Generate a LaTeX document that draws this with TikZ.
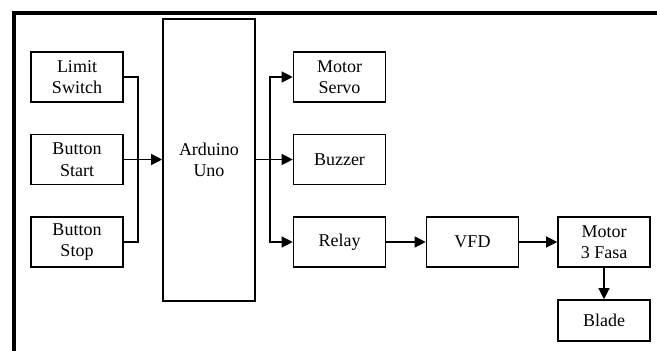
\documentclass[tikz,border=0pt]{standalone}
\usepackage{fontspec}
\setmainfont{Liberation Serif}
\usetikzlibrary{arrows.meta}
\begin{document}
\begin{tikzpicture}[x=1pt,y=-1pt,
  blk/.style={draw,line width=1.6pt,minimum width=92pt,minimum height=50pt,align=center,inner sep=0pt,font=\fontsize{18}{21.5}\selectfont},
  conn/.style={line width=1.2pt},
  arr/.style={conn,-{Triangle[length=11pt,width=11pt]}}]
\useasboundingbox (0,0) rectangle (657,351);
\draw[line width=4pt] (657,13) -- (13.5,13) -- (13.5,351);
\node[blk] (ls) at (77,77) {Limit\\Switch};
\node[blk] (bstart) at (77,159.5) {Button\\Start};
\node[blk] (bstop) at (77,242) {Button\\Stop};
\node[blk,minimum height=282pt] (ard) at (209,160) {Arduino\\Uno};
\node[blk] (ms) at (339.5,77) {Motor\\Servo};
\node[blk] (buz) at (339.5,159.5) {Buzzer};
\node[blk] (rel) at (339.5,242) {Relay};
\node[blk] (vfd) at (472.5,242) {VFD};
\node[blk] (mot) at (604,242) {Motor\\3 Fasa};
\node[blk,minimum height=41pt] (bl) at (604,320.5) {Blade};
\coordinate (jl) at (138,159.5);
\coordinate (jr) at (270,159.5);
\draw[conn] (ls.east) -| (jl) |- (bstop.east);
\draw[arr] (bstart.east) -- (ard.west |- bstart.east);
\draw[conn] (ard.east |- jr) -- (jr);
\draw[arr] (jr) |- (ms.west);
\draw[arr] (jr) -- (buz.west);
\draw[arr] (jr) |- (rel.west);
\draw[arr] (rel) -- (vfd);
\draw[arr] (vfd) -- (mot);
\draw[arr] (mot) -- (bl);
\end{tikzpicture}
\end{document}
